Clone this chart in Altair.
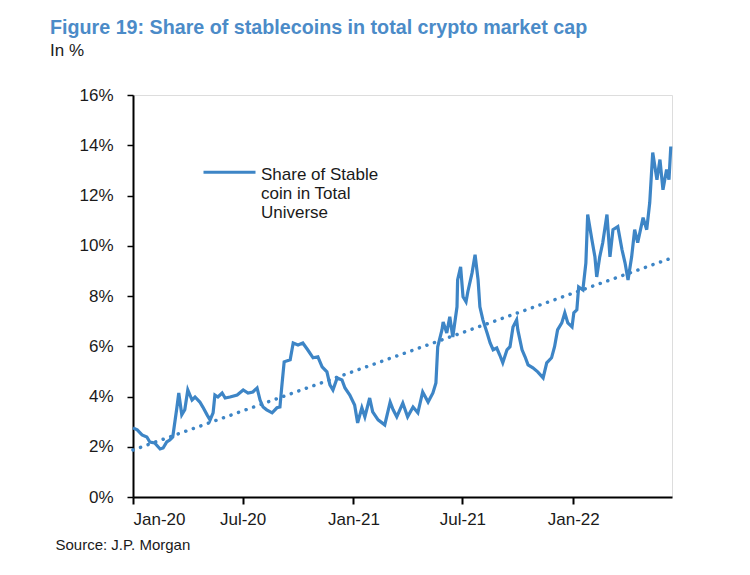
import altair as alt
import pandas as pd

BLUE = "#3d85c6"
TITLE_BLUE = "#4b8bc8"
FONT = "Liberation Sans, Arial, sans-serif"

dates = [
    "2020-01-01", "2020-01-08", "2020-01-16", "2020-01-24", "2020-01-29", "2020-02-06",
    "2020-02-15", "2020-02-20", "2020-02-26", "2020-03-02", "2020-03-07", "2020-03-14",
    "2020-03-17", "2020-03-22", "2020-03-27", "2020-04-01", "2020-04-08", "2020-04-13",
    "2020-04-21", "2020-04-26", "2020-05-03", "2020-05-08", "2020-05-13", "2020-05-16",
    "2020-05-21", "2020-05-28", "2020-06-02", "2020-06-10", "2020-06-22", "2020-07-02",
    "2020-07-10", "2020-07-18", "2020-07-25", "2020-07-30", "2020-08-04", "2020-08-10",
    "2020-08-19", "2020-08-27", "2020-09-01", "2020-09-04", "2020-09-08", "2020-09-18",
    "2020-09-23", "2020-10-01", "2020-10-09", "2020-10-17", "2020-10-26", "2020-11-03",
    "2020-11-10", "2020-11-18", "2020-11-23", "2020-11-28", "2020-12-05", "2020-12-13",
    "2020-12-18", "2020-12-26", "2021-01-03", "2021-01-08", "2021-01-15", "2021-01-20",
    "2021-01-28", "2021-02-02", "2021-02-11", "2021-02-22", "2021-03-03", "2021-03-08",
    "2021-03-14", "2021-03-24", "2021-04-01", "2021-04-10", "2021-04-18", "2021-04-26",
    "2021-05-05", "2021-05-13", "2021-05-18", "2021-05-21", "2021-05-28", "2021-05-30",
    "2021-06-05", "2021-06-10", "2021-06-15", "2021-06-22", "2021-06-23", "2021-06-28",
    "2021-07-02", "2021-07-07", "2021-07-10", "2021-07-17", "2021-07-22", "2021-07-27",
    "2021-07-30", "2021-08-04", "2021-08-11", "2021-08-16", "2021-08-21", "2021-08-27",
    "2021-09-01", "2021-09-06", "2021-09-13", "2021-09-18", "2021-09-23", "2021-09-29",
    "2021-10-01", "2021-10-08", "2021-10-13", "2021-10-18", "2021-10-26", "2021-11-03",
    "2021-11-12", "2021-11-18", "2021-11-26", "2021-12-01", "2021-12-06", "2021-12-13",
    "2021-12-18", "2021-12-23", "2021-12-30", "2022-01-02", "2022-01-07", "2022-01-10",
    "2022-01-17", "2022-01-22", "2022-01-25", "2022-02-01", "2022-02-06", "2022-02-09",
    "2022-02-14", "2022-02-19", "2022-02-26", "2022-03-03", "2022-03-08", "2022-03-16",
    "2022-03-23", "2022-03-28", "2022-04-02", "2022-04-08", "2022-04-13", "2022-04-18",
    "2022-04-27", "2022-05-03", "2022-05-08", "2022-05-13", "2022-05-20", "2022-05-25",
    "2022-05-30", "2022-06-05", "2022-06-09", "2022-06-12",
]
share = [
    2.75, 2.67, 2.47, 2.39, 2.19, 2.15,
    1.91, 1.95, 2.19, 2.27, 2.39, 3.58,
    4.14, 3.27, 3.47, 4.26, 3.86, 3.98,
    3.78, 3.58, 3.27, 3.07, 3.35, 4.06,
    3.98, 4.14, 3.94, 3.98, 4.06, 4.26,
    4.14, 4.18, 4.34, 3.86, 3.58, 3.47,
    3.35, 3.55, 3.58, 4.38, 5.38, 5.46,
    6.13, 6.05, 6.13, 5.86, 5.54, 5.58,
    5.18, 4.98, 4.46, 4.26, 4.74, 4.66,
    4.34, 4.06, 3.66, 2.95, 3.55, 3.19,
    3.94, 3.39, 3.07, 2.87, 3.78, 3.47,
    3.19, 3.74, 3.19, 3.58, 3.35, 4.18,
    3.78, 4.14, 4.54, 5.98, 6.65, 6.97,
    6.53, 7.17, 6.37, 7.57, 8.64, 9.16,
    7.97, 7.77, 8.17, 8.92, 9.64, 8.64,
    7.57, 7.05, 6.53, 6.13, 5.86, 5.93,
    5.65, 5.34, 5.86, 5.98, 6.77, 7.05,
    6.65, 5.86, 5.58, 5.26, 5.14, 4.98,
    4.74, 5.34, 5.54, 5.98, 6.65, 6.93,
    7.33, 6.93, 6.77, 7.33, 7.45, 8.36,
    8.24, 9.32, 11.24, 10.24, 9.56, 8.76,
    9.56, 10.12, 11.24, 9.56, 10.64, 10.76,
    9.84, 9.32, 8.64, 9.56, 10.64, 10.12,
    11.12, 10.64, 11.71, 13.71, 12.63, 13.43,
    12.23, 13.03, 12.63, 13.95,
]
trend_dates = ["2020-01-01", "2022-06-12"]
trend_values = [1.87, 9.50]

series_name = "Share of Stable coin in Total Universe"
legend_lines = ["Share of Stable", "coin in Total", "Universe"]
y_ticks = [0, 2, 4, 6, 8, 10, 12, 14, 16]
x_ticks = ["2020-01-01", "2020-07-01", "2021-01-01", "2021-07-01", "2022-01-01"]

df = pd.DataFrame({"date": pd.to_datetime(dates), "share": share, "series": series_name})
tdf = pd.DataFrame({"date": pd.to_datetime(trend_dates), "share": trend_values})

x_scale = alt.Scale(
    domain=[alt.DateTime(year=2020, month=1, date=1),
            alt.DateTime(year=2022, month=6, date=14)],
)
y_scale = alt.Scale(domain=[0, 16], nice=False, zero=True)

x_axis = alt.Axis(
    values=[alt.DateTime(year=int(s[:4]), month=int(s[5:7]), date=1) for s in x_ticks],
    format="%b-%y",
    grid=False,
    ticks=True,
    domainColor="black", domainWidth=2,
    tickColor="black", tickWidth=2, tickSize=7,
    labelFontSize=17, labelColor="#1a1a1a", labelPadding=7, labelFont=FONT,
    title="Source: J.P. Morgan",
    titleAnchor="start", titleAlign="left", titleBaseline="alphabetic",
    titleX=-78, titleY=52, titleFontSize=15, titleFontWeight="normal",
    titleColor="#1a1a1a", titleFont=FONT,
)
y_axis = alt.Axis(
    values=y_ticks,
    labelExpr="datum.value + '%'",
    grid=False,
    ticks=True,
    domainColor="black", domainWidth=2,
    tickColor="black", tickWidth=1.5, tickSize=6,
    labelFontSize=17, labelColor="#1a1a1a", labelPadding=14, labelFont=FONT,
    title=None,
)

legend = alt.Legend(
    title=None,
    orient="none",
    legendX=69,
    legendY=57,
    symbolType="M-1,-0.28L1,-0.28",
    symbolSize=2704,
    symbolStrokeWidth=3,
    symbolFillColor="transparent",
    labelFontSize=17,
    labelFont=FONT,
    labelColor="#1a1a1a",
    labelBaseline="alphabetic",
    labelOffset=4,
    labelLimit=300,
    labelExpr="['" + "', '".join(legend_lines) + "']",
)

line = alt.Chart(df).mark_line(strokeWidth=3.2, interpolate="linear").encode(
    x=alt.X("date:T", scale=x_scale, axis=x_axis),
    y=alt.Y("share:Q", scale=y_scale, axis=y_axis),
    color=alt.Color("series:N", scale=alt.Scale(range=[BLUE]), legend=legend),
)

trend = alt.Chart(tdf).mark_line(
    color=BLUE, strokeWidth=3.5, strokeDash=[0.1, 7.9], strokeCap="round"
).encode(
    x=alt.X("date:T", scale=x_scale, axis=x_axis),
    y=alt.Y("share:Q", scale=y_scale, axis=y_axis),
)

chart = alt.layer(trend, line).properties(
    width=539,
    height=402,
    autosize=alt.AutoSizeParams(type="none"),
    padding={"left": 125, "top": 87, "right": 70, "bottom": 72},
    title=alt.TitleParams(
        text="Figure 19: Share of stablecoins in total crypto market cap",
        subtitle="In %",
        anchor="start",
        frame="group",
        dx=-83,
        offset=27,
        font=FONT,
        fontSize=19.7,
        fontWeight="bold",
        color=TITLE_BLUE,
        subtitleFont=FONT,
        subtitleFontSize=17,
        subtitleColor="#1a1a1a",
        subtitlePadding=5,
    ),
).configure_view(stroke=None).configure(background="white")

chart.save("out.html", embed_options={"renderer": "svg", "actions": False})
